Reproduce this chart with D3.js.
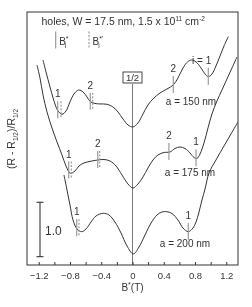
<!DOCTYPE html>
<html lang="en">
<head>
<meta charset="UTF-8" />
<title>Commensurability oscillations</title>
<script src="https://d3js.org/d3.v7.min.js"></script>
<style>
  body { margin: 0; background: #fff; }
  svg { will-change: transform; }
  text { font-family: Arial, "Liberation Sans", sans-serif; fill: #333; }
  .frame { fill: none; stroke: #333; stroke-width: 1; }
  .trace { fill: none; stroke: #333; stroke-width: 1; }
  .mark { stroke: #9a9a9a; stroke-width: 1.2; }
  .dash { stroke-dasharray: 2, 1.5; }
</style>
</head>
<body>
<svg id="chart" width="252" height="307"></svg>
<script>
// B* in tesla, traces in units of (R - R1/2)/R1/2, offset vertically
const bTicks = [-1.2, -1.0, -0.8, -0.6, -0.4, -0.2, 0, 0.2, 0.4, 0.6, 0.8, 1.0, 1.2];
const bLabels = [-1.2, -0.8, -0.4, 0, 0.4, 0.8, 1.2];

const curve150 = [
  [-1.145, 3.768], [-1.107, 3.548], [-1.052, 3.254], [-0.988, 2.941], [-0.953, 2.831],
  [-0.902, 2.770], [-0.851, 2.831], [-0.800, 2.996], [-0.749, 3.143], [-0.688, 3.217],
  [-0.633, 3.180], [-0.582, 3.088], [-0.540, 3.002], [-0.480, 2.969], [-0.416, 2.960],
  [-0.326, 2.954], [-0.250, 2.904], [-0.186, 2.813], [-0.122, 2.684], [-0.058, 2.574],
  [0.006, 2.537], [0.070, 2.610], [0.134, 2.776], [0.198, 2.941], [0.262, 3.051],
  [0.352, 3.162], [0.441, 3.235], [0.522, 3.309], [0.582, 3.438], [0.646, 3.621],
  [0.704, 3.732], [0.758, 3.768], [0.813, 3.732], [0.877, 3.621], [0.928, 3.511],
  [0.970, 3.461], [1.017, 3.511], [1.068, 3.658], [1.120, 3.842], [1.171, 4.026],
  [1.226, 4.197]
];

const curve175 = [
  [-1.222, 3.676], [-1.184, 3.438], [-1.145, 3.125], [-1.094, 2.813], [-1.030, 2.518],
  [-0.966, 2.261], [-0.902, 2.022], [-0.851, 1.820], [-0.796, 1.686], [-0.736, 1.728],
  [-0.685, 1.820], [-0.621, 1.875], [-0.518, 1.912], [-0.441, 1.930], [-0.365, 1.939],
  [-0.288, 1.912], [-0.211, 1.820], [-0.134, 1.654], [-0.058, 1.489], [0.006, 1.415],
  [0.070, 1.489], [0.134, 1.618], [0.198, 1.783], [0.262, 1.930], [0.326, 2.022],
  [0.403, 2.068], [0.480, 2.077], [0.544, 2.142], [0.608, 2.169], [0.672, 2.142],
  [0.736, 2.059], [0.787, 1.976], [0.825, 1.958], [0.864, 2.040], [0.915, 2.243],
  [0.966, 2.518], [1.017, 2.776], [1.081, 3.015], [1.145, 3.217], [1.209, 3.419],
  [1.273, 3.621], [1.337, 3.824]
];

const curve200 = [
  [-0.877, 1.654], [-0.838, 1.379], [-0.800, 1.103], [-0.761, 0.827], [-0.710, 0.662],
  [-0.650, 0.612], [-0.595, 0.662], [-0.531, 0.790], [-0.467, 0.901], [-0.374, 0.950],
  [-0.301, 0.919], [-0.224, 0.790], [-0.147, 0.588], [-0.070, 0.349], [0.010, 0.202],
  [0.083, 0.331], [0.160, 0.551], [0.237, 0.772], [0.313, 0.919], [0.377, 0.974],
  [0.438, 0.980], [0.505, 0.947], [0.582, 0.827], [0.646, 0.680], [0.714, 0.612],
  [0.774, 0.680], [0.813, 0.790], [0.851, 0.974], [0.889, 1.195], [0.928, 1.397],
  [0.979, 1.691], [1.068, 1.930], [1.171, 2.188], [1.260, 2.408], [1.350, 2.629]
];

// [B*_i (solid), B*'_i (dashed) or null, label]
const marks150 = [[-0.957, -0.915, "1"], [-0.540, -0.509, "2"], [0.522, null, "2"], [0.970, null, "i = 1"]];
const marks175 = [[-0.816, -0.783, "1"], [-0.445, -0.420, "2"], [0.466, null, "2"], [0.813, null, "1"]];
const marks200 = [[-0.714, -0.685, "1"], [0.714, null, "1"]];

const curveNames = ["a = 150 nm", "a = 175 nm", "a = 200 nm"];
const scaleBar = 1.0;

const svg = d3.select("#chart");
const margin = { top: 12, right: 14, bottom: 42, left: 27 };
const W = +svg.attr("width"), H = +svg.attr("height");
const plotW = W - margin.left - margin.right;
const plotH = H - margin.top - margin.bottom;

const x = d3.scaleLinear().domain([-1.35, 1.35]).range([margin.left, margin.left + plotW]);
const y = d3.scaleLinear().domain([0, 4.65]).range([margin.top + plotH, margin.top]);

svg.append("clipPath").attr("id", "clip")
  .append("rect")
  .attr("x", margin.left).attr("y", margin.top)
  .attr("width", plotW).attr("height", plotH);

// B = 0 reference line and 1/2 box
svg.append("line")
  .attr("x1", x(0)).attr("x2", x(0))
  .attr("y1", 84).attr("y2", margin.top + plotH)
  .attr("stroke", "#7a7a7a").attr("stroke-width", 1);
svg.append("rect")
  .attr("x", x(0) - 9.5).attr("y", 72).attr("width", 19).attr("height", 11)
  .attr("fill", "#fff").attr("stroke", "#333").attr("stroke-width", 0.9);
svg.append("text")
  .attr("x", x(0)).attr("y", 81).attr("text-anchor", "middle")
  .style("font-size", "9.5px").text("1/2");

const line = d3.line()
  .x(d => x(d[0]))
  .y(d => y(d[1]))
  .curve(d3.curveCatmullRom.alpha(0.5));

const traces = [curve150, curve175, curve200];
const marks = [marks150, marks175, marks200];

svg.append("g").attr("clip-path", "url(#clip)")
  .selectAll("path.trace")
  .data(traces)
  .join("path")
  .attr("class", "trace")
  .attr("d", line);

function valueAt(curve, b) {
  for (let i = 1; i < curve.length; i++) {
    if (curve[i][0] >= b) {
      const a = curve[i - 1], c = curve[i];
      const t = (b - a[0]) / (c[0] - a[0]);
      return a[1] + t * (c[1] - a[1]);
    }
  }
  return curve[curve.length - 1][1];
}

// position markers
marks.forEach((set, k) => {
  set.forEach(m => {
    const cy = y(valueAt(traces[k], m[0]));
    const top = cy - 9, bot = cy + 8;
    svg.append("line").attr("class", "mark")
      .attr("x1", x(m[0])).attr("x2", x(m[0]))
      .attr("y1", top).attr("y2", bot);
    if (m[1] !== null) {
      svg.append("line").attr("class", "mark dash")
        .attr("x1", x(m[1])).attr("x2", x(m[1]))
        .attr("y1", top).attr("y2", bot);
    }
    const long = m[2].length > 1;
    svg.append("text")
      .attr("x", long ? x(m[0]) + 3 : x(m[0]))
      .attr("y", top - 4)
      .attr("text-anchor", long ? "end" : "middle")
      .style("font-size", "10px")
      .text(m[2]);
  });
});

// trace names
const namePos = [[191, 104.5], [190, 176], [185, 247]];
curveNames.forEach((n, i) => {
  svg.append("text")
    .attr("x", namePos[i][0]).attr("y", namePos[i][1])
    .attr("text-anchor", "middle")
    .style("font-size", "10px")
    .text(n);
});

// frame
svg.append("rect").attr("class", "frame")
  .attr("x", margin.left).attr("y", margin.top)
  .attr("width", plotW).attr("height", plotH);

// inward ticks
const xAxis = d3.axisBottom(x).tickValues(bTicks).tickSize(-3)
  .tickFormat(d => bLabels.some(v => Math.abs(v - d) < 1e-9) ? d3.format("")(+d.toFixed(1)) : "");
const gx = svg.append("g")
  .attr("transform", `translate(0,${margin.top + plotH})`)
  .call(xAxis);
gx.select(".domain").remove();
gx.selectAll(".tick line").attr("stroke", "#333");
gx.selectAll(".tick text")
  .attr("y", 7)
  .style("font-size", "9.5px")
  .style("font-family", "Arial, 'Liberation Sans', sans-serif")
  .attr("fill", "#333");

// x title
const xt = svg.append("text")
  .attr("x", x(0)).attr("y", 291)
  .attr("text-anchor", "middle")
  .style("font-size", "10px");
xt.append("tspan").text("B");
xt.append("tspan").attr("dy", -4).style("font-size", "7px").text("*");
xt.append("tspan").attr("dy", 4).text("(T)");

// y title
const yt = svg.append("text")
  .attr("transform", "translate(15,139) rotate(-90)")
  .attr("text-anchor", "middle")
  .style("font-size", "10.5px");
yt.append("tspan").text("(R - R");
yt.append("tspan").attr("dy", 2.5).style("font-size", "6.5px").text("1/2");
yt.append("tspan").attr("dy", -2.5).text(")/R");
yt.append("tspan").attr("dy", 2.5).style("font-size", "6.5px").text("1/2");

// scale bar
const sbx = 40;
const sb0 = y(0.153), sb1 = y(0.153 + scaleBar);
svg.append("line").attr("x1", sbx).attr("x2", sbx).attr("y1", sb0).attr("y2", sb1)
  .attr("stroke", "#333").attr("stroke-width", 1.1);
[sb0, sb1].forEach(v => {
  svg.append("line").attr("x1", sbx - 3.5).attr("x2", sbx + 3.5).attr("y1", v).attr("y2", v)
    .attr("stroke", "#333").attr("stroke-width", 1.1);
});
svg.append("text").attr("x", 45).attr("y", 235)
  .style("font-size", "12px").text(scaleBar.toFixed(1));

// title
const tt = svg.append("text")
  .attr("x", 41.5).attr("y", 25)
  .style("font-size", "10.5px");
tt.append("tspan").text("holes, W = 17.5 nm, 1.5 x 10");
tt.append("tspan").attr("dy", -4).style("font-size", "6.5px").text("11");
tt.append("tspan").attr("dy", 4).text(" cm");
tt.append("tspan").attr("dy", -4).style("font-size", "6.5px").text("-2");

// legend
function legendItem(lx, dashed, sup) {
  svg.append("line").attr("class", dashed ? "mark dash" : "mark")
    .attr("x1", lx).attr("x2", lx).attr("y1", 31.5).attr("y2", 48.5);
  const t = svg.append("text").attr("x", lx + 3.5).attr("y", 45)
    .style("font-size", "10px");
  t.append("tspan").text("B");
  t.append("tspan").attr("dy", -4).style("font-size", "7px").text(sup);
  t.append("tspan").attr("dx", dashed ? -5 : -3.5).attr("dy", 7).style("font-size", "6.5px").text("i");
}
legendItem(55.7, false, "*");
legendItem(89, true, "*'");
</script>
</body>
</html>
